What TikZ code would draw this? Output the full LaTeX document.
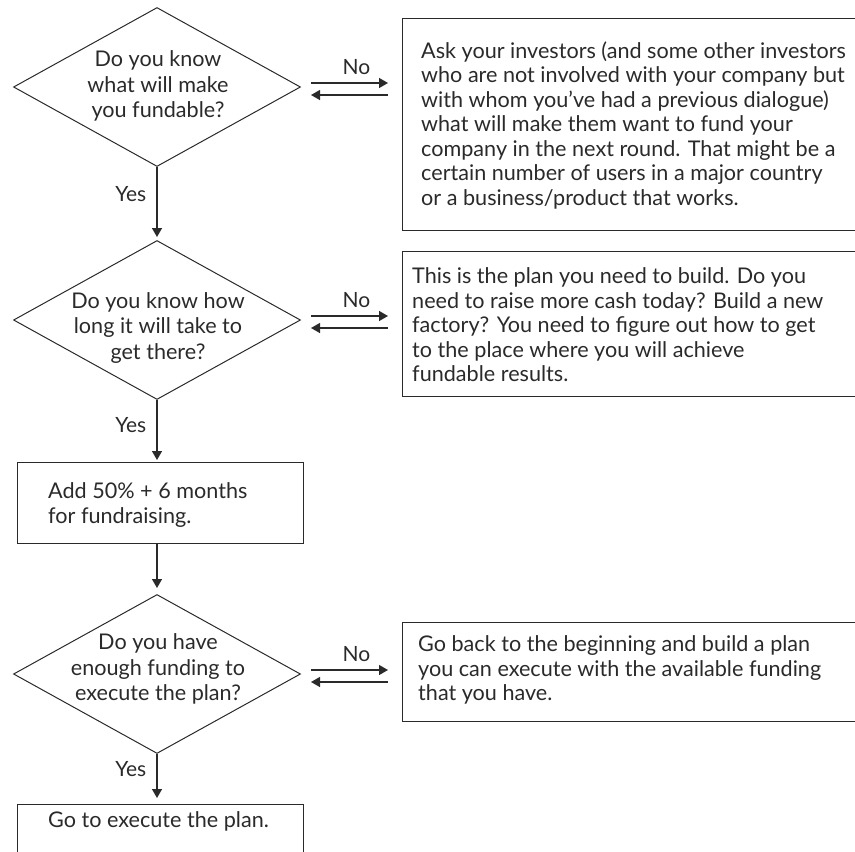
\documentclass[tikz,border=0pt]{standalone}
\usepackage{fontspec}
\setmainfont{Lato}
\usetikzlibrary{shapes.geometric,arrows.meta}
\definecolor{ink}{HTML}{2A2A2A}
\begin{document}
\begin{tikzpicture}[x=1pt,y=-1pt,
  decision/.style={draw=ink,line width=1pt,shape=diamond,minimum width=287pt,minimum height=159pt,inner sep=0pt},
  infobox/.style={draw=ink,line width=1.4pt,rectangle,inner sep=0pt,anchor=north west},
  question/.style={text=ink,font=\fontsize{21.6}{25.5}\selectfont,align=center,inner sep=0pt},
  note/.style={text=ink,font=\fontsize{21.6}{24.5}\selectfont,align=left,anchor=west,inner sep=0pt},
  answer/.style={text=ink,font=\fontsize{21}{24}\selectfont,inner sep=0pt},
  flow/.style={draw=ink,line width=1.4pt,-{Triangle[width=10pt,length=9pt]}},
]
\clip (0,0) rectangle (855,852);

% decisions
\node[decision] (d1) at (157,87) {};
\node[decision] (d2) at (157,320) {};
\node[decision] (d3) at (157,674) {};
\node[question] (q1) at (158,86) {Do you know\\what will make\\you fundable?};
\node[question] (q2) at (158,328) {Do you know how\\long it will take to\\get there?};
\node[question] (q3) at (158,669) {Do you have\\enough funding to\\execute the plan?};

% boxes on the left column
\node[infobox,minimum width=286pt,minimum height=81pt] (a1) at (17,462) {};
\node[note] (t1) at (48,505) {Add 50\% + 6 months\\for fundraising.};
\node[infobox,minimum width=286pt,minimum height=80pt] (a2) at (17,804) {};
\node[note] (t2) at (48,821) {Go to execute the plan.};

% boxes on the right column
\node[infobox,minimum width=470pt,minimum height=212pt] (b1) at (402,18) {};
\node[note] (n1) at (421,125) {Ask your investors (and some other investors\\who are not involved with your company but\\with whom you’ve had a previous dialogue)\\what will make them want to fund your\\company in the next round. That might be a\\certain number of users in a major country\\or a business/product that works.};
\node[infobox,minimum width=470pt,minimum height=145pt] (b2) at (402,251) {};
\node[note] (n2) at (412,325) {This is the plan you need to build. Do you\\need to raise more cash today? Build a new\\factory? You need to figure out how to get\\to the place where you will achieve\\fundable results.};
\node[infobox,minimum width=470pt,minimum height=99pt] (b3) at (402,622) {};
\node[note] (n3) at (418,670) {Go back to the beginning and build a plan\\you can execute with the available funding\\that you have.};

% yes branches
\draw[flow,shorten >=3pt] (d1.south) -- node[answer,anchor=east,xshift=-10pt,pos=0.37] {Yes} (d2.north);
\draw[flow,shorten >=2pt] (d2.south) -- node[answer,anchor=east,xshift=-10pt,pos=0.4] {Yes} (d2.south |- a1.north);
\draw[flow,shorten >=6pt] (d2.south |- a1.south) -- (d3.north);
\draw[flow,shorten >=6pt] (d3.south) -- node[answer,anchor=east,xshift=-10pt,pos=0.3] {Yes} (d3.south |- a2.north);

% no branches: out and back
\foreach \d/\b in {d1/b1,d2/b2,d3/b3}{
  \coordinate (\d out) at ([shift={(10pt,4pt)}]\d.east);
  \coordinate (\d back) at ([shift={(10pt,-8pt)}]\d.east);
  \draw[flow,shorten >=14pt] (\d out) -- node[answer,above=8pt] {No} (\d out -| \b.west);
  \draw[flow] ([xshift=-14pt]\d back -| \b.west) -- (\d back);
}
\end{tikzpicture}
\end{document}
